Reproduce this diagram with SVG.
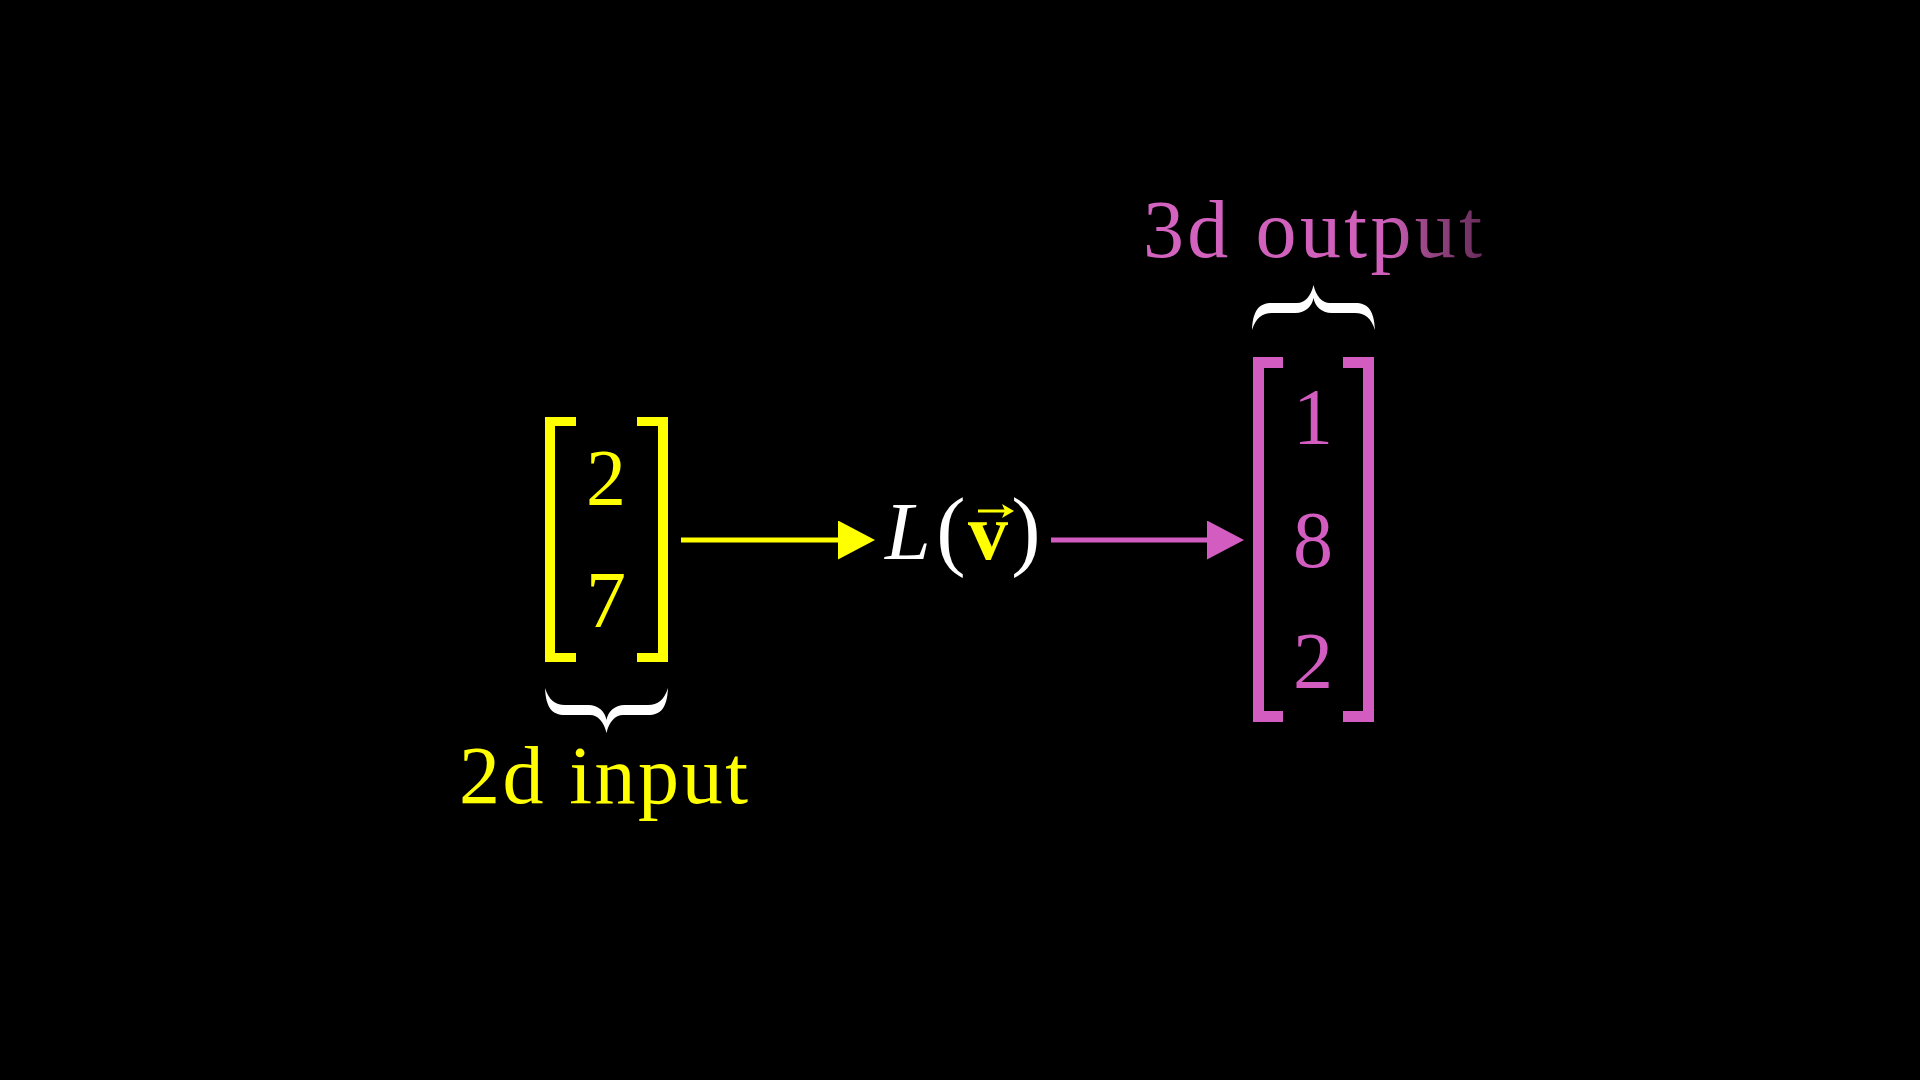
<svg xmlns="http://www.w3.org/2000/svg" width="1920" height="1080" viewBox="0 0 1920 1080">
<style>
.t{font-family:"Liberation Serif","DejaVu Serif",serif;}
.num{font-size:80px;text-anchor:middle;}
.y{fill:#FFFF00;}
.p{fill:#D35CC0;}
.w{fill:#FFFFFF;}
.lbl{font-size:82px;}
</style>
<defs>
<marker id="ahY" viewBox="0 0 37 39" refX="32" refY="19.5" markerWidth="37" markerHeight="39" markerUnits="userSpaceOnUse" orient="auto"><path d="M0 0 L37 19.5 L0 39 Z" fill="#FFFF00"/></marker>
<marker id="ahP" viewBox="0 0 37 39" refX="32" refY="19.5" markerWidth="37" markerHeight="39" markerUnits="userSpaceOnUse" orient="auto"><path d="M0 0 L37 19.5 L0 39 Z" fill="#D35CC0"/></marker>
<path id="brace" d="M -61.5 0 C -60.5 20 -54.5 27 -41.5 27 L -16.5 27 C -8.5 27 -2.5 34 0 45 C 2.5 34 8.5 27 16.5 27 L 41.5 27 C 54.5 27 60.5 20 61.5 0 C 57.5 12 51.5 17 41.5 17 L 18.5 17 C 7.5 17 1.5 24 0 32 C -1.5 24 -7.5 17 -18.5 17 L -41.5 17 C -51.5 17 -57.5 12 -61.5 0 Z" fill="#FFFFFF"/>
<linearGradient id="outGrad" gradientUnits="userSpaceOnUse" x1="1143" y1="0" x2="1482" y2="0">
<stop offset="0" stop-color="#D463C0"/>
<stop offset="0.72" stop-color="#CF5FBA"/>
<stop offset="0.83" stop-color="#9C4889"/>
<stop offset="1" stop-color="#6A2D5C"/>
</linearGradient>
</defs>
<rect x="0" y="0" width="1920" height="1080" fill="#000000"/>

<g id="input-matrix">
<path class="y" d="M 576 417 H 545 V 662 H 576 V 653 H 555 V 426 H 576 Z"/>
<path class="y" d="M 637 417 H 668 V 662 H 637 V 653 H 658 V 426 H 637 Z"/>
<text class="t num y" x="606" y="505">2</text>
<text class="t num y" x="606" y="627">7</text>
</g>

<g id="input-brace">
<use href="#brace" transform="translate(606.5,688)"/>
</g>

<g id="input-label">
<text class="t lbl y" x="459" y="803" textLength="289" lengthAdjust="spacing">2d input</text>
</g>

<g id="function">
<text class="t w" x="885" y="559" font-size="82" font-style="italic">L</text>
<text class="t w" x="951" y="559" font-size="88" text-anchor="middle">(</text>
<text class="t y" x="988" y="559" font-size="80" font-weight="bold" text-anchor="middle">v</text>
<path d="M 978 511 H 1007" stroke="#FFFF00" stroke-width="3" fill="none"/>
<path class="y" d="M 1014 511 L 1002 504 L 1005 511 L 1002 518 Z"/>
<text class="t w" x="1026" y="559" font-size="88" text-anchor="middle">)</text>
</g>

<g id="output-matrix">
<path class="p" d="M 1283 357 H 1253 V 722 H 1283 V 711 H 1264 V 368 H 1283 Z"/>
<path class="p" d="M 1343 357 H 1374 V 722 H 1343 V 711 H 1363 V 368 H 1343 Z"/>
<text class="t num p" x="1313" y="444">1</text>
<text class="t num p" x="1313" y="567">8</text>
<text class="t num p" x="1313" y="688">2</text>
</g>

<g id="output-brace">
<use href="#brace" transform="translate(1313.5,330) scale(1,-1)"/>
</g>

<g id="output-label">
<text class="t lbl" x="1143" y="257" fill="url(#outGrad)" textLength="339" lengthAdjust="spacing">3d output</text>
</g>

<g id="connectors">
<line x1="681" y1="540" x2="870" y2="540" stroke="#FFFF00" stroke-width="5" marker-end="url(#ahY)"/>
<line x1="1051" y1="540" x2="1239" y2="540" stroke="#D35CC0" stroke-width="5" marker-end="url(#ahP)"/>
</g>
</svg>
